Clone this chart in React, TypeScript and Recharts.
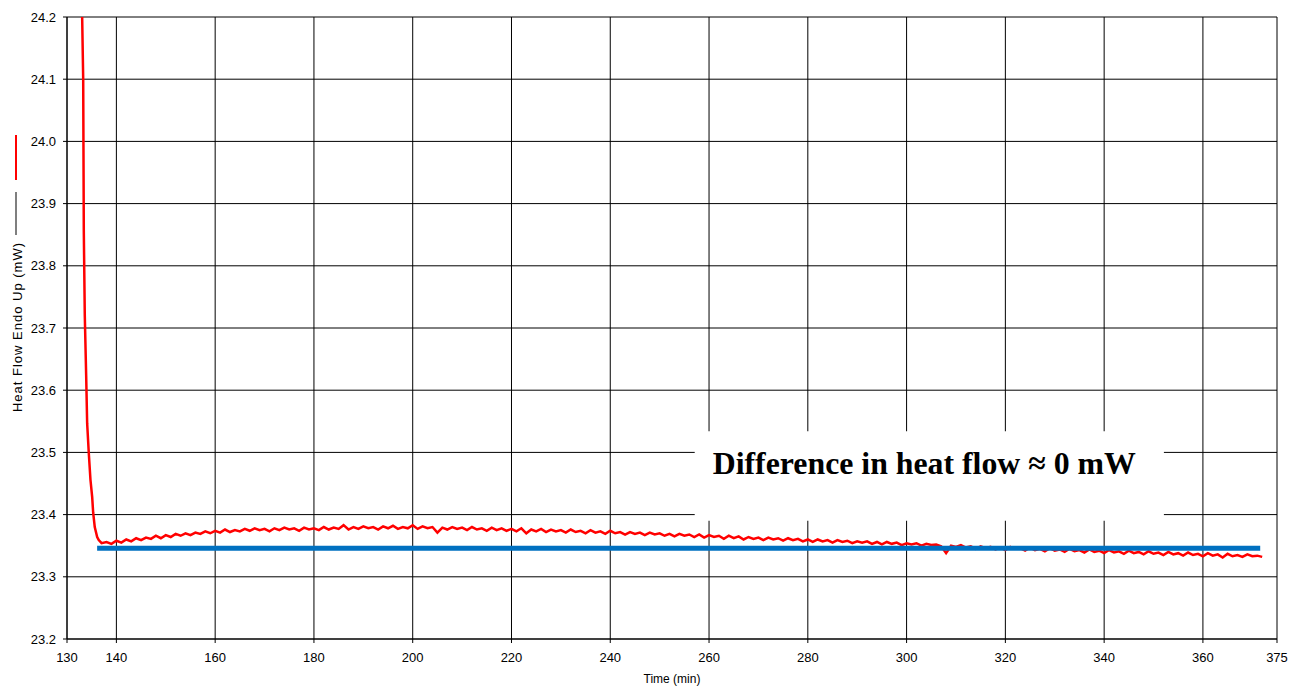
import React from 'react';
import { LineChart, Line, XAxis, YAxis, CartesianGrid, ReferenceArea } from 'recharts';

// steep drop at the start of the run (time in min, heat flow in mW)
const dropTimes = [133.07, 133.28, 133.4, 133.6, 133.88, 134.08, 134.41, 134.75, 135.1, 135.3, 135.62, 136.11, 136.43];
const dropValues = [24.2, 24.1, 23.858, 23.721, 23.624, 23.547, 23.499, 23.456, 23.428, 23.403, 23.38, 23.364, 23.359];

// noisy plateau, one reading per minute from 137 min
const plateauStart = 137;
const plateauValues = [
  23.354, 23.356, 23.353, 23.358, 23.355, 23.36, 23.357, 23.362, 23.359, 23.363,
  23.361, 23.366, 23.362, 23.367, 23.364, 23.369, 23.366, 23.37, 23.367, 23.371,
  23.369, 23.373, 23.37, 23.374, 23.371, 23.376, 23.372, 23.375, 23.373, 23.377,
  23.374, 23.378, 23.375, 23.377, 23.373, 23.378, 23.375, 23.379, 23.376, 23.378,
  23.374, 23.379, 23.376, 23.378, 23.375, 23.38, 23.376, 23.379, 23.377, 23.383,
  23.376, 23.38, 23.377, 23.381, 23.378, 23.38, 23.376, 23.381, 23.378, 23.382,
  23.377, 23.38, 23.378, 23.383, 23.377, 23.381, 23.378, 23.38, 23.371, 23.379,
  23.376, 23.38, 23.377, 23.379, 23.375, 23.38, 23.376, 23.378, 23.374, 23.379,
  23.375, 23.378, 23.374, 23.377, 23.373, 23.378, 23.37, 23.376, 23.373, 23.377,
  23.372, 23.376, 23.373, 23.375, 23.371, 23.376, 23.372, 23.374, 23.37, 23.375,
  23.371, 23.373, 23.369, 23.374, 23.37, 23.372, 23.368, 23.372, 23.369, 23.371,
  23.367, 23.371, 23.368, 23.37, 23.366, 23.369, 23.365, 23.369, 23.366, 23.368,
  23.364, 23.368, 23.363, 23.367, 23.364, 23.366, 23.361, 23.366, 23.362, 23.365,
  23.36, 23.364, 23.361, 23.363, 23.359, 23.363, 23.36, 23.362, 23.358, 23.362,
  23.359, 23.361, 23.357, 23.36, 23.356, 23.36, 23.357, 23.359, 23.355, 23.359,
  23.356, 23.358, 23.354, 23.357, 23.355, 23.357, 23.353, 23.356, 23.352, 23.356,
  23.353, 23.355, 23.351, 23.354, 23.352, 23.354, 23.35, 23.353, 23.351, 23.352,
  23.349, 23.338, 23.35, 23.348, 23.351, 23.347, 23.349, 23.345, 23.349, 23.346,
  23.348, 23.344, 23.347, 23.343, 23.348, 23.345, 23.346, 23.342, 23.347, 23.343,
  23.345, 23.341, 23.346, 23.342, 23.344, 23.34, 23.345, 23.341, 23.343, 23.339,
  23.344, 23.34, 23.342, 23.338, 23.343, 23.339, 23.341, 23.337, 23.342, 23.338,
  23.34, 23.336, 23.341, 23.337, 23.339, 23.335, 23.34, 23.336, 23.338, 23.334,
  23.339, 23.335, 23.337, 23.333, 23.338, 23.334, 23.336, 23.331, 23.337, 23.333,
  23.335, 23.332, 23.336, 23.333, 23.334, 23.332,
];

// fitted baseline (blue)
const baseTimes = [136.1, 371.6];
const baseValues = [23.346, 23.346];

const xTicks = [130, 140, 160, 180, 200, 220, 240, 260, 280, 300, 320, 340, 360, 375];
const yTicks = [23.2, 23.3, 23.4, 23.5, 23.6, 23.7, 23.8, 23.9, 24.0, 24.1, 24.2];

const noteBox = { x1: 257.1, x2: 352.1, y1: 23.39, y2: 23.534 };
const noteText = 'Difference in heat flow \u2248 0 mW';

const redData = [
  ...dropTimes.map((t, i) => ({ t, v: dropValues[i] })),
  ...plateauValues.map((v, i) => ({ t: plateauStart + i, v })),
];
const blueData = baseTimes.map((t, i) => ({ t, v: baseValues[i] }));

const sans = 'Arial, "Liberation Sans", sans-serif';
const tickStyle = { fill: '#000', fontSize: 13, fontFamily: sans };

// red/grey legend marks plus rotated axis title on the far left
const YLegend = (props: any) => {
  const vb = props.viewBox || { x: 0, y: 17 };
  const x = vb.x + 16;
  const top = vb.y;
  return (
    <g>
      <line x1={x} x2={x} y1={top + 118} y2={top + 163} stroke="#ff0000" strokeWidth={2} />
      <line x1={x} x2={x} y1={top + 175} y2={top + 218} stroke="#555" strokeWidth={1.5} />
      <text
        x={x + 1}
        y={top + 310}
        transform={`rotate(-90, ${x + 1}, ${top + 310})`}
        textAnchor="middle"
        dominantBaseline="central"
        fontSize={13}
        letterSpacing={1}
        fontFamily={sans}
        fill="#000"
      >
        Heat Flow Endo Up (mW)
      </text>
    </g>
  );
};

const NoteLabel = (props: any) => {
  const vb = props.viewBox;
  if (!vb) return null;
  return (
    <text
      x={vb.x + 18}
      y={vb.y + 43}
      fontSize={31.8}
      fontWeight="bold"
      fontFamily='"Times New Roman", "Liberation Serif", serif'
      fill="#000"
    >
      {noteText}
    </text>
  );
};

export default function App() {
  return (
    <div style={{ position: 'absolute', left: 0, top: 0, background: '#fff' }}>
      <LineChart width={1302} height={687} margin={{ top: 17, right: 25, bottom: 0, left: 0 }}>
        <CartesianGrid stroke="#000" strokeWidth={1} />
        <XAxis
          dataKey="t"
          type="number"
          domain={[130, 375]}
          ticks={xTicks}
          interval={0}
          allowDataOverflow
          height={48}
          tickSize={4}
          tickMargin={10}
          stroke="#000"
          tick={tickStyle}
          label={{ value: 'Time (min)', position: 'insideBottom', offset: 4, fill: '#000', fontSize: 12, fontFamily: sans }}
        />
        <YAxis
          dataKey="v"
          type="number"
          domain={[23.2, 24.2]}
          ticks={yTicks}
          interval={0}
          allowDataOverflow
          width={67}
          tickSize={4}
          tickMargin={7}
          stroke="#000"
          tick={tickStyle}
          tickFormatter={(v: number) => v.toFixed(1)}
          label={{ content: (p: any) => <YLegend {...p} /> }}
        />
        <ReferenceArea
          x1={noteBox.x1}
          x2={noteBox.x2}
          y1={noteBox.y1}
          y2={noteBox.y2}
          fill="#fff"
          fillOpacity={1}
          stroke="none"
          label={{ content: (p: any) => <NoteLabel {...p} /> }}
        />
        <Line
          data={redData}
          dataKey="v"
          type="linear"
          stroke="#ff0000"
          strokeWidth={2.5}
          dot={false}
          activeDot={false}
          isAnimationActive={false}
        />
        <Line
          data={blueData}
          dataKey="v"
          type="linear"
          stroke="#0070c0"
          strokeWidth={5}
          dot={false}
          activeDot={false}
          isAnimationActive={false}
        />
      </LineChart>
    </div>
  );
}
